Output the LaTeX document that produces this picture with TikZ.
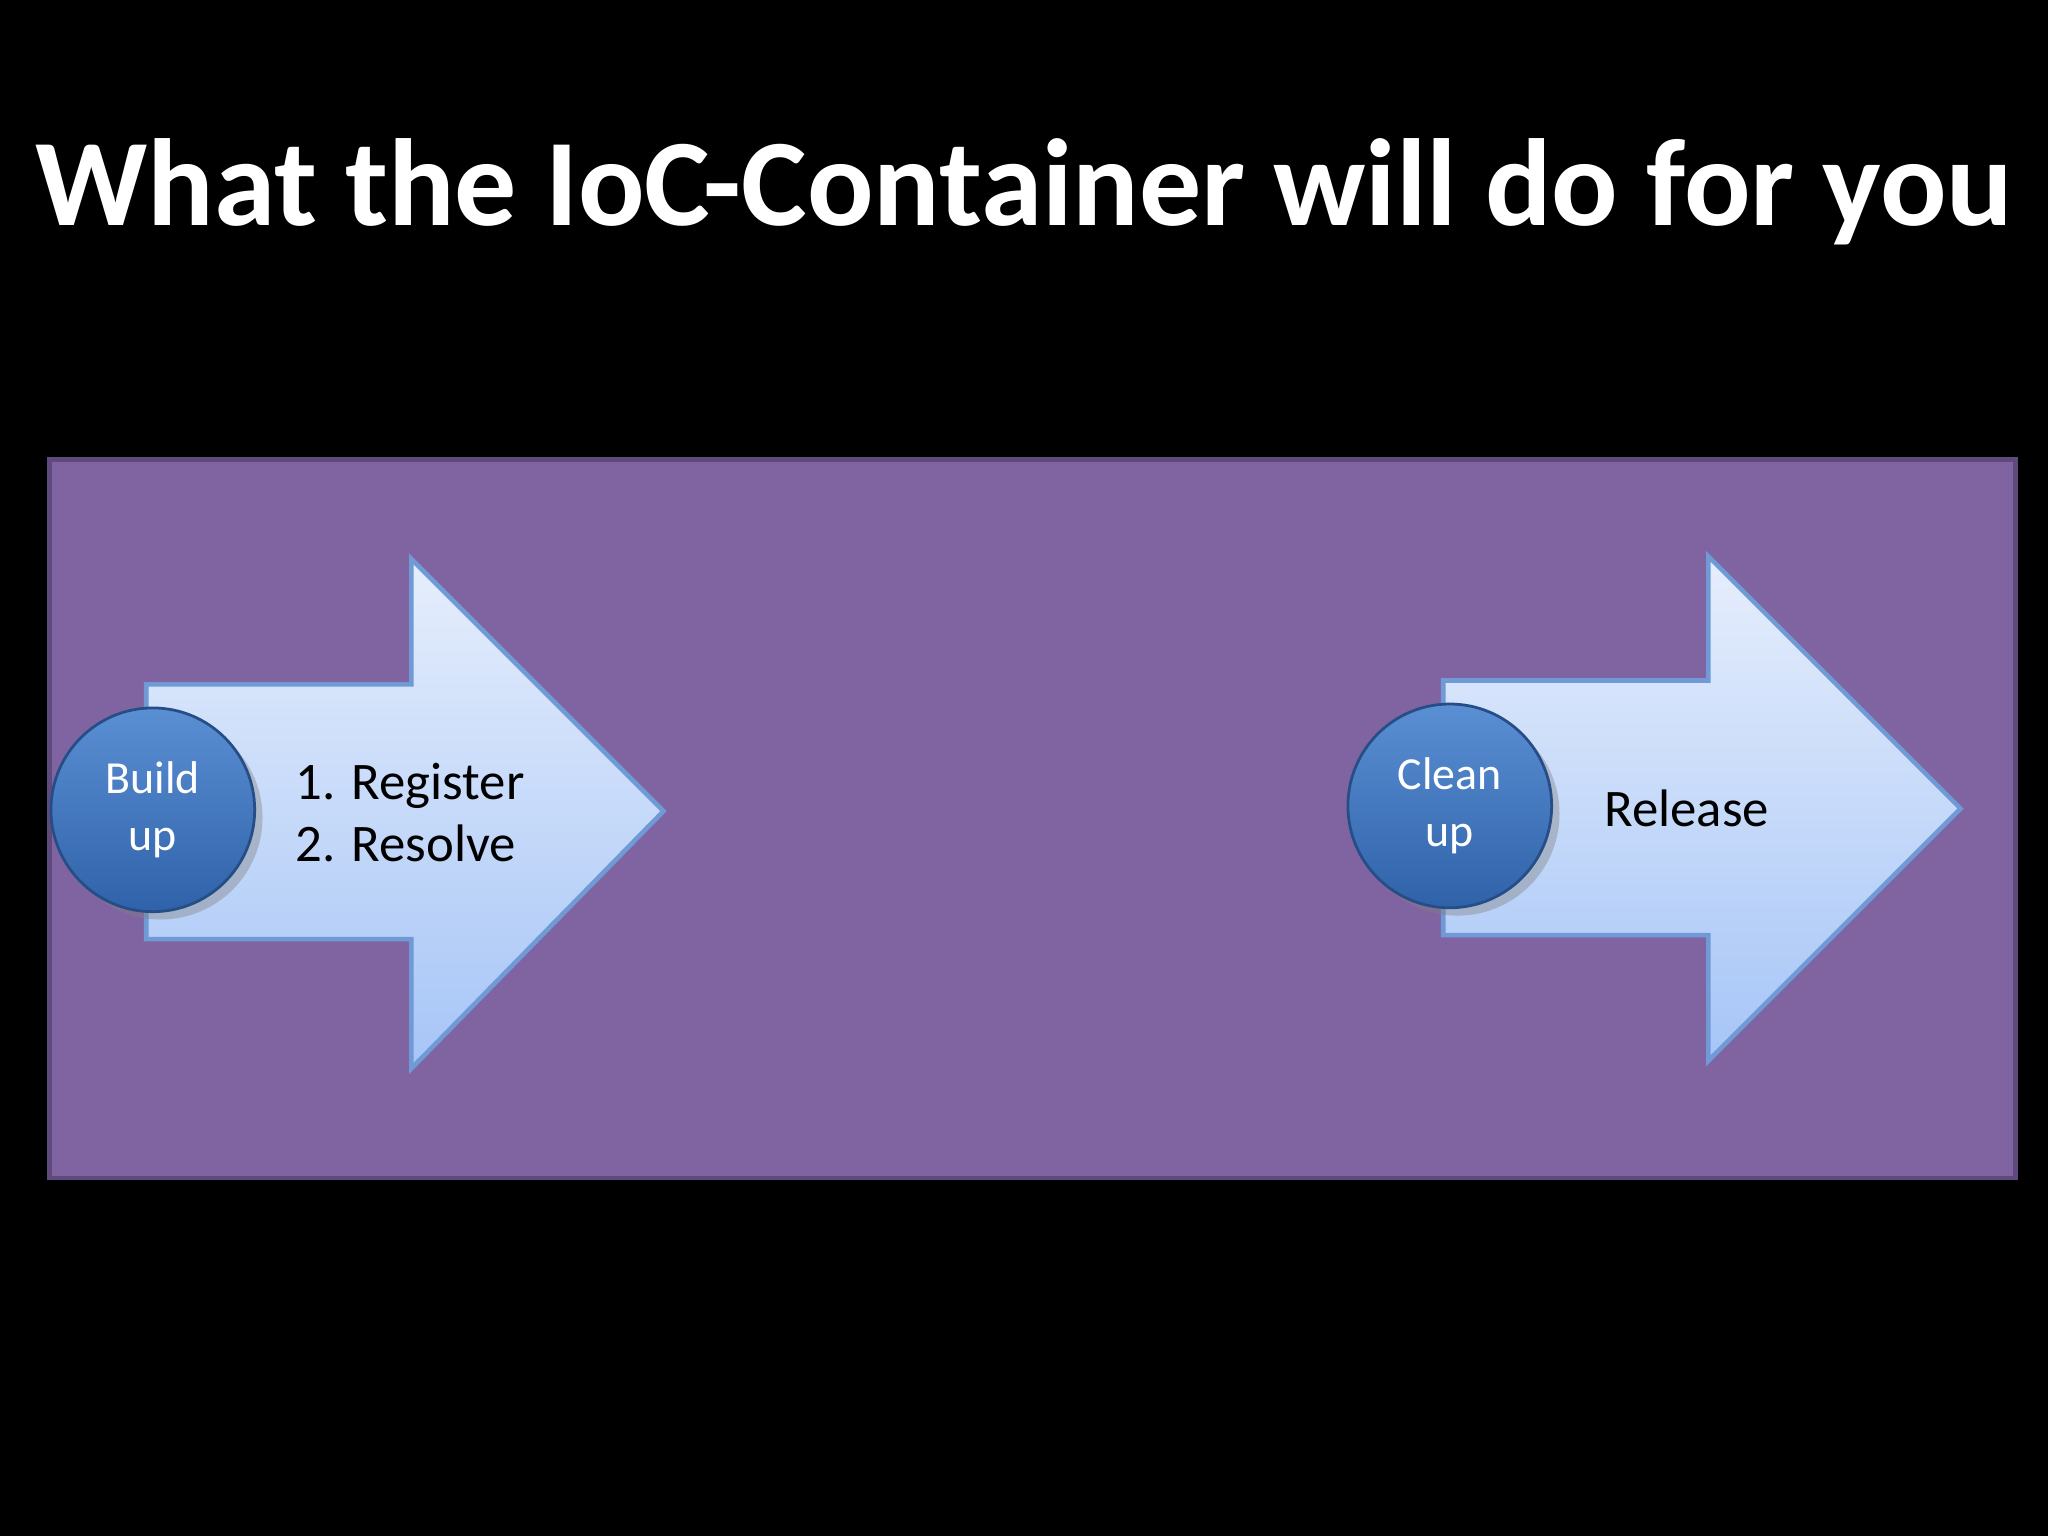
\documentclass[tikz,border=0pt]{standalone}
\usepackage{fontspec}
\setmainfont{Carlito}
\definecolor{purp}{HTML}{8064A2}
\definecolor{purpd}{HTML}{5E4A7C}
\definecolor{arrtop}{HTML}{E6EEFC}
\definecolor{arrbot}{HTML}{A6C5F7}
\definecolor{arrline}{HTML}{6F9AD6}
\definecolor{balltop}{HTML}{5B8FD4}
\definecolor{ballbot}{HTML}{2F62A8}
\tikzset{
  bigarrow/.style={draw=arrline, line width=1pt, top color=arrtop, bottom color=arrbot},
  ball/.style={circle, minimum size=15.6mm, inner sep=0pt, draw=ballbot!80!black, line width=0.6pt,
     top color=balltop, bottom color=ballbot, text=white, font=\fontsize{10pt}{12.5pt}\selectfont, align=center,
     drop shadow={opacity=0.4, shadow xshift=0.6mm, shadow yshift=-0.6mm}},
  lbl/.style={font=\fontsize{11.5pt}{13.5pt}\selectfont, align=left, text=black}
}
\usetikzlibrary{shadows}
\begin{document}
\begin{tikzpicture}[x=0.1mm,y=-0.1mm]
\fill[black] (0,0) rectangle (1568,1176);
\useasboundingbox (0,0) rectangle (1568,1176);
\node[text=white, font=\bfseries\fontsize{27pt}{32pt}\selectfont] (title) at (784,147) {What the IoC-Container will do for you};
\draw[fill=purp, draw=purpd, line width=1pt] (38,352) rectangle (1543,902);
\draw[bigarrow] (112,524) -- (315,524) -- (315,428) -- (508,621) -- (315,818) -- (315,719) -- (112,719) -- cycle;
\draw[bigarrow] (1105,521) -- (1308,521) -- (1308,426) -- (1501,619) -- (1308,812) -- (1308,716) -- (1105,716) -- cycle;
\node[ball] (b1) at (117,620) {Build\\up};
\node[ball] (b2) at (1110,617) {Clean\\up};
\node[lbl, anchor=west] (t1) at (214,622) {1. Register\\2. Resolve};
\node[lbl, anchor=west] (t2) at (1216,619) {Release};
\end{tikzpicture}
\end{document}
